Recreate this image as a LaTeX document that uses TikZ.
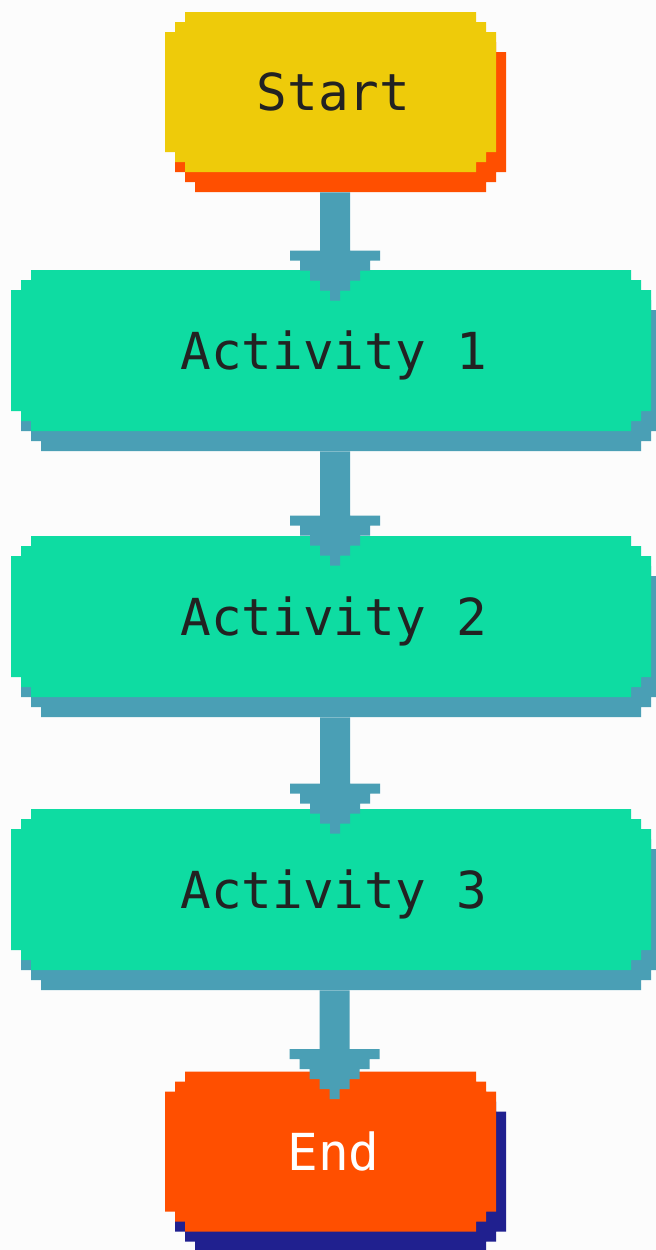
\documentclass[tikz,border=0pt]{standalone}
\usepackage{fontspec}
\setmonofont{DejaVu Sans Mono}
\usetikzlibrary{calc,backgrounds}
\definecolor{startcol}{HTML}{EECB0A}
\definecolor{stopcol}{HTML}{FF4F00}
\definecolor{actcol}{HTML}{0EDCA2}
\definecolor{linkcol}{HTML}{4A9FB5}
\definecolor{navycol}{HTML}{20208F}
\definecolor{inkcol}{HTML}{222222}
\definecolor{papercol}{HTML}{FCFCFC}
\tikzset{
  box/.style={inner sep=0pt,text height=18.5pt,text depth=0pt,font=\ttfamily\fontsize{25.5}{30}\selectfont,text=inkcol},
  termbox/.style={box,minimum width=165.5pt,minimum height=80pt},
  actbox/.style={box,minimum width=320pt,minimum height=80.5pt},
}
% stepped outline round the origin, #1 = half width, #2 = half height (px)
\newcommand\pixpath[2]{(-#1+20,-#2) -| (#1-20,-#2+10) -| (#1-10,-#2+20) -| (#1,#2-20) -| (#1-10,#2-10) -| (#1-20,#2) -- (-#1+20,#2) |- (-#1+10,#2-10) |- (-#1,#2-20) -- (-#1,-#2+20) -| (-#1+10,-#2+10) -| (-#1+20,-#2) -- cycle}
% box behind a node: node, half width, half height, fill, shadow
\newcommand\pixbox[5]{%
  \begin{scope}[on background layer,shift={(#1.center)}]
    \fill[#5,shift={(10,20)}] \pixpath{#2}{#3};
    \fill[#4] \pixpath{#2}{#3};
  \end{scope}}
% stepped arrow: from node, to node, depth of the tip in the target
\newcommand\pixarrow[3]{%
  \fill[linkcol] let \p1=($(#1.south)+(0,20)$), \p2=($(#2.north)+(4,#3)$) in
    ({\x2-7.5pt},\y1) |- ({\x2-22.5pt},{\y2+25pt})
    -- ++(0,10) -- ++(10,0) -- ++(0,10) -- ++(10,0) -- ++(0,10) -- ++(10,0) -- ++(0,10) -- ++(10,0) -- ++(0,10)
    -- ++(10,0) -- ++(0,-10) -- ++(10,0) -- ++(0,-10) -- ++(10,0) -- ++(0,-10) -- ++(10,0) -- ++(0,-10) -- ++(10,0) -- ++(0,-10)
    -- ++(-30,0) |- ({\x2+7.5pt},\y1) -- cycle;}
\begin{document}
\begin{tikzpicture}[x=0.5pt,y=-0.5pt]
  \useasboundingbox (0,0) rectangle (656,1250);
  \begin{scope}[on background layer]
    \fill[papercol] (0,0) rectangle (656,1250);
  \end{scope}
  % nodes
  \node[termbox] (start) at (330.5,92) {\hspace{3pt}Start};
  \node[actbox] (act1) at (331,350.5) {\hspace{3pt}Activity 1};
  \node[actbox] (act2) at (331,616.5) {\hspace{3pt}Activity 2};
  \node[actbox] (act3) at (331,889.5) {\hspace{3pt}Activity 3};
  \node[termbox,text=white] (stop) at (330.5,1151.5) {\hspace{3pt}End};
  % boxes
  \pixbox{start}{165.5}{80}{startcol}{stopcol}
  \foreach \n in {act1,act2,act3} {\pixbox{\n}{320}{80.5}{actcol}{linkcol}}
  \pixbox{stop}{165.5}{80}{stopcol}{navycol}
  % links
  \foreach \a/\b/\d in {start/act1/31,act1/act2/30,act2/act3/25,act3/stop/28} {\pixarrow{\a}{\b}{\d}}
\end{tikzpicture}
\end{document}
